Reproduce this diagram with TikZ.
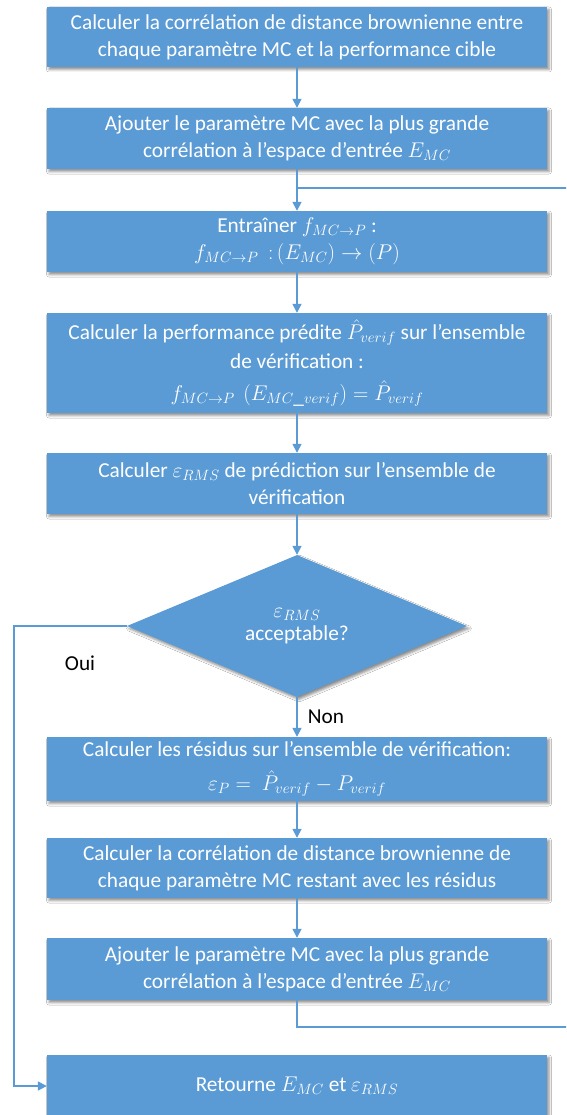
\RequirePackage{fix-cm}
\documentclass[tikz,border=0pt]{standalone}
\usepackage{fontspec}
\setmainfont{Carlito}
\usetikzlibrary{shapes.geometric,arrows.meta,shadows.blur}
\definecolor{boxblue}{HTML}{5B9BD5}
\tikzset{
  stepbox/.style={rectangle, fill=boxblue, text=white, minimum width=500pt,
    inner sep=0pt, align=center,
    font=\fontsize{21.3}{27}\selectfont,
    blur shadow={shadow xshift=2pt, shadow yshift=-2.5pt, shadow blur radius=2.5pt, shadow opacity=45}},
  decbox/.style={diamond, fill=boxblue, text=white, minimum width=340pt, minimum height=142pt,
    inner sep=0pt, aspect=2.4, align=center, font=\fontsize{21.3}{23}\selectfont,
    blur shadow={shadow xshift=2pt, shadow yshift=-2.5pt, shadow blur radius=2.5pt, shadow opacity=45}},
  lbl/.style={text=black, font=\fontsize{21.3}{24}\selectfont},
  conn/.style={draw=boxblue, line width=1.6pt},
  arr/.style={conn, -{Triangle[length=9pt,width=9pt]}}
}
\begin{document}
\begin{tikzpicture}[x=1pt,y=-1pt]
\path[use as bounding box] (0,0) rectangle (566,1115);
\clip (0,0) rectangle (566,1115);
\fill[white] (0,0) rectangle (566,1115);

\node[stepbox, minimum height=60pt] (b1) at (297,37)
  {Calculer la corrélation de distance brownienne entre\\chaque paramètre MC et la performance cible};
\node[stepbox, minimum height=61pt] (b2) at (297,138.5)
  {Ajouter le paramètre MC avec la plus grande\\corrélation à l’espace d’entrée $E_{MC}$};
\node[stepbox, minimum height=61pt] (b3) at (297,241.5)
  {Entraîner $f_{MC\to P}$ :\\$f_{MC\to P}\ \ {:}\,(E_{MC})\to(P)$};
\node[stepbox, minimum height=100pt] (b4) at (297,363)
  {Calculer la performance prédite $\hat{P}_{verif}$ sur l’ensemble\\[2pt]de vérification :\\[5pt]$f_{MC\to P}\ \left(E_{MC\_verif}\right)=\hat{P}_{verif}$};
\node[stepbox, minimum height=61pt] (b5) at (297,483.5)
  {Calculer $\varepsilon_{RMS}$ de prédiction sur l’ensemble de\\vérification};
\node[decbox] (d) at (297,626) {$\varepsilon_{RMS}$\\acceptable?};
\node[stepbox, minimum height=64pt] (b6) at (297,769)
  {Calculer les résidus sur l’ensemble de vérification:\\[7pt]$\varepsilon_P=\ \hat{P}_{verif}-P_{verif}$};
\node[stepbox, minimum height=60pt] (b7) at (297,868)
  {Calculer la corrélation de distance brownienne de\\chaque paramètre MC restant avec les résidus};
\node[stepbox, minimum height=62pt] (b8) at (297,969)
  {Ajouter le paramètre MC avec la plus grande\\corrélation à l’espace d’entrée $E_{MC}$};
\node[stepbox, minimum height=62pt] (b9) at (297,1086)
  {Retourne $E_{MC}$ et $\varepsilon_{RMS}$};

\node[lbl] (oui) at (80,663) {Oui};
\node[lbl] (non) at (326,717) {Non};

\coordinate (j) at (297,188);
\coordinate (rb) at (600,1027);
\coordinate (lx) at (14,1086);

\draw[arr] (b1) -- (b2);
\draw[arr] (b2) -- (b3);
\draw[arr] (b3) -- (b4);
\draw[arr] (b4) -- (b5);
\draw[arr] (b5) -- (d);
\draw[arr] (d) -- (b6);
\draw[arr] (b6) -- (b7);
\draw[arr] (b7) -- (b8);
\draw[conn] (b8.south) |- (rb) |- (j);
\draw[arr] (d.west) -| (lx) -- (b9.west);
\end{tikzpicture}
\end{document}
